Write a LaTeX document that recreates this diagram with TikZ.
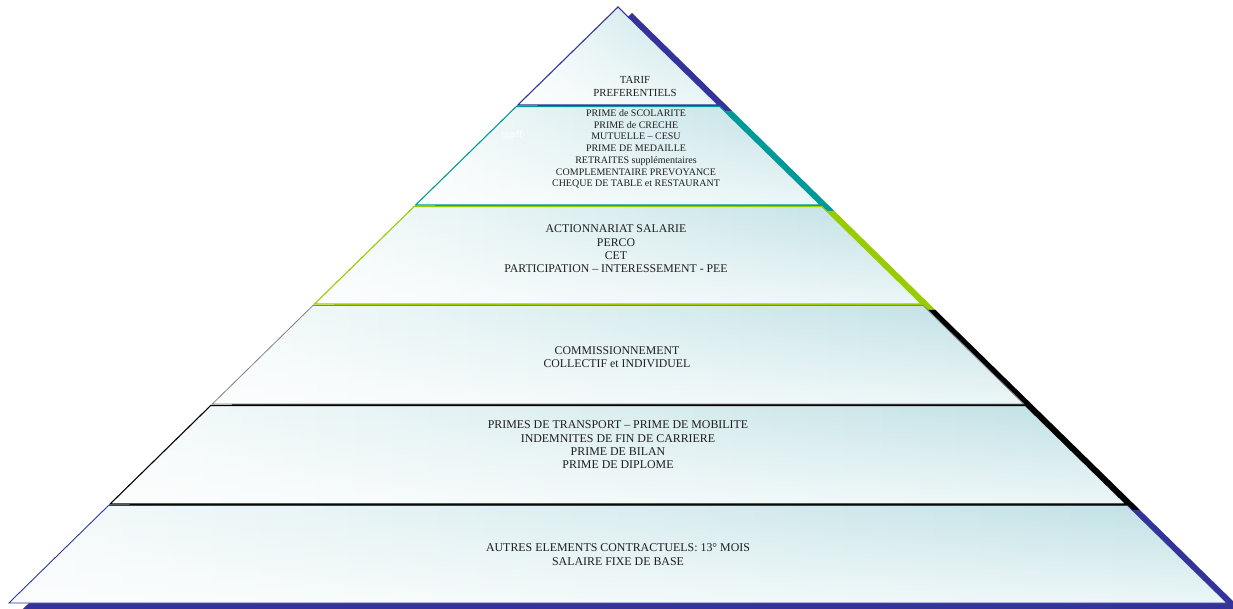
\documentclass[tikz,border=0pt]{standalone}
\usepackage{fontspec}
\setmainfont{Liberation Serif}
\usetikzlibrary{fadings}
\definecolor{dblue}{RGB}{51,51,153}
\definecolor{dteal}{RGB}{0,153,153}
\definecolor{lgreen}{RGB}{153,204,0}
\definecolor{mgray}{RGB}{128,128,128}
\definecolor{facetop}{RGB}{190,224,228}
\definecolor{faceleft}{RGB}{246,251,251}
\definecolor{txt}{RGB}{30,30,30}
\tikzfading[name=fadedown, top color=transparent!100, bottom color=transparent!28]
\begin{document}
\begin{tikzpicture}[x=1pt,y=-1pt,
  sh/.style={shift={(14,6)}},
  face/.style={preaction={left color=faceleft, right color=facetop},
               preaction={fill=white, path fading=fadedown},
               line width=1.1pt, line join=miter},
  lbl/.style={align=center, inner sep=0pt, text=txt}]
\useasboundingbox (0,0) rectangle (1233,609);
% corners
\coordinate (t1) at (618,7);
\coordinate (b1l) at (517.8,105);  \coordinate (b1r) at (718.2,105);
\coordinate (t2l) at (516.3,106.5); \coordinate (t2r) at (719.7,106.5);
\coordinate (b2l) at (415.6,205);  \coordinate (b2r) at (820.4,205);
\coordinate (t3l) at (414.1,206.5); \coordinate (t3r) at (821.9,206.5);
\coordinate (b3l) at (314.5,304);  \coordinate (b3r) at (921.5,304);
\coordinate (t4l) at (312.9,305.5); \coordinate (t4r) at (923.1,305.5);
\coordinate (b4l) at (212.3,404);  \coordinate (b4r) at (1023.7,404);
\coordinate (t5l) at (210.7,405.5); \coordinate (t5r) at (1025.3,405.5);
\coordinate (b5l) at (110.1,504);  \coordinate (b5r) at (1125.9,504);
\coordinate (t6l) at (108.5,505.5); \coordinate (t6r) at (1127.5,505.5);
\coordinate (b6l) at (8.9,603);    \coordinate (b6r) at (1227.1,603);
% shadows
\fill[dblue]  ([sh]t1) -- ([sh]b1l) -- ([sh]b1r) -- cycle;
\fill[dteal]  ([sh]b1l) -- ([sh]b2l) -- ([sh]b2r) -- ([sh]b1r) -- cycle;
\fill[lgreen] ([sh]b2l) -- ([sh]b3l) -- ([sh]b3r) -- ([sh]b2r) -- cycle;
\fill[black]  ([sh]b3l) -- ([sh]b4l) -- ([sh]b4r) -- ([sh]b3r) -- cycle;
\fill[black]  ([sh]b4l) -- ([sh]b5l) -- ([sh]b5r) -- ([sh]b4r) -- cycle;
\fill[dblue]  ([sh]b5l) -- ([sh]b6l) -- ([sh]b6r) -- ([sh]b5r) -- cycle;
% faces
\draw[face, draw=dblue]  (t1) -- (b1l) -- (b1r) -- cycle;
\draw[face, draw=dteal]  (t2l) -- (b2l) -- (b2r) -- (t2r) -- cycle;
\draw[face, draw=lgreen] (t3l) -- (b3l) -- (b3r) -- (t3r) -- cycle;
\draw[face, draw=mgray, line width=0.8pt] (t4l) -- (b4l) -- (b4r) -- (t4r) -- cycle;
\draw[face, draw=black]  (t5l) -- (b5l) -- (b5r) -- (t5r) -- cycle;
\draw[face, draw=dblue, line width=0.9pt]  (t6l) -- (b6l) -- (b6r) -- (t6r) -- cycle;
% texts
\node[lbl, font=\fontsize{10.8}{13}\selectfont] (n1) at (635,86.5) {TARIF\\PREFERENTIELS};
\node[lbl, font=\fontsize{10}{11.7}\selectfont] (n2) at (636,149) {PRIME de SCOLARITE\\PRIME de CRECHE\\MUTUELLE – CESU\\PRIME DE MEDAILLE\\RETRAITES supplémentaires\\COMPLEMENTAIRE PREVOYANCE\\CHEQUE DE TABLE et RESTAURANT};
\node[lbl, text=white, font=\fontsize{10}{12}\selectfont] (n2b) at (512,135) {tggdf};
\node[lbl, font=\fontsize{11.8}{13.3}\selectfont] (n3) at (616,249) {ACTIONNARIAT SALARIE\\PERCO\\CET\\PARTICIPATION – INTERESSEMENT - PEE};
\node[lbl, font=\fontsize{11.8}{13.3}\selectfont] (n4) at (617,357.5) {COMMISSIONNEMENT\\COLLECTIF et INDIVIDUEL};
\node[lbl, font=\fontsize{11.9}{13.3}\selectfont] (n5) at (618,445) {PRIMES DE TRANSPORT – PRIME DE MOBILITE\\INDEMNITES DE FIN DE CARRIERE\\PRIME DE BILAN\\PRIME DE DIPLOME};
\node[lbl, font=\fontsize{11.9}{13.3}\selectfont] (n6) at (618,554.5) {AUTRES ELEMENTS CONTRACTUELS: 13° MOIS\\SALAIRE FIXE DE BASE};
\end{tikzpicture}
\end{document}
